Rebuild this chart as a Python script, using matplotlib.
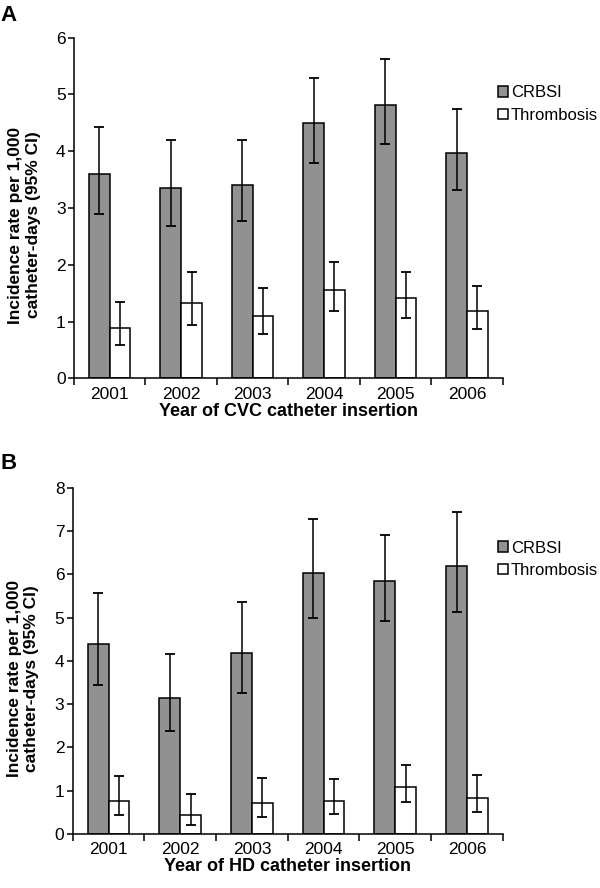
import matplotlib
matplotlib.use("Agg")
import matplotlib.pyplot as plt
import numpy as np

plt.rcParams['font.family'] = ['Liberation Sans', 'DejaVu Sans']

years = ['2001', '2002', '2003', '2004', '2005', '2006']
series_names = ['CRBSI', 'Thrombosis']

# Panel A: CVC catheters
a_crbsi = [3.60, 3.35, 3.41, 4.49, 4.82, 3.97]
a_crbsi_lo = [2.90, 2.68, 2.77, 3.80, 4.12, 3.31]
a_crbsi_hi = [4.43, 4.19, 4.20, 5.29, 5.63, 4.74]
a_thr = [0.89, 1.32, 1.10, 1.56, 1.42, 1.18]
a_thr_lo = [0.59, 0.93, 0.78, 1.18, 1.07, 0.86]
a_thr_hi = [1.35, 1.88, 1.59, 2.05, 1.88, 1.63]

# Panel B: HD catheters
b_crbsi = [4.38, 3.14, 4.18, 6.04, 5.84, 6.19]
b_crbsi_lo = [3.44, 2.37, 3.25, 5.00, 4.92, 5.13]
b_crbsi_hi = [5.57, 4.15, 5.36, 7.28, 6.92, 7.45]
b_thr = [0.76, 0.43, 0.71, 0.76, 1.08, 0.82]
b_thr_lo = [0.43, 0.20, 0.39, 0.45, 0.73, 0.50]
b_thr_hi = [1.34, 0.91, 1.29, 1.26, 1.59, 1.35]

fig = plt.figure(figsize=(6, 8.88), dpi=100)

def panel(rect, crbsi, clo, chi, thr, tlo, thi, ymax, xlabel, letter, letter_y, leg_y):
    ax = fig.add_axes(rect)
    n = len(years)
    x = np.arange(n) + 0.5
    w = 0.29
    ekw = dict(elinewidth=1.1, capthick=1.3, ecolor='black')
    c = np.array(crbsi); t = np.array(thr)
    ax.bar(x - w / 2, c, w, color='#919191', edgecolor='black', linewidth=1.1,
           yerr=[c - np.array(clo), np.array(chi) - c], capsize=3.5,
           error_kw=ekw, label=series_names[0], zorder=2)
    ax.bar(x + w / 2, t, w, color='white', edgecolor='black', linewidth=1.1,
           yerr=[t - np.array(tlo), np.array(thi) - t], capsize=3.5,
           error_kw=ekw, label=series_names[1], zorder=2)
    ax.set_xlim(0, n)
    ax.set_ylim(0, ymax)
    ax.set_yticks(np.arange(0, ymax + 1, 1))
    ax.set_xticks(np.arange(0, n + 1, 1))
    ax.set_xticklabels([])
    ax.set_xticks(x, minor=True)
    ax.set_xticklabels(years, minor=True)
    ax.tick_params(axis='x', which='major', direction='out', length=5, width=1.1)
    ax.tick_params(axis='x', which='minor', length=0, labelsize=12.5, pad=6)
    ax.tick_params(axis='y', direction='out', length=4, width=1.1, labelsize=12.5, pad=2)
    for s in ['top', 'right']:
        ax.spines[s].set_visible(False)
    for s in ['left', 'bottom']:
        ax.spines[s].set_linewidth(1.1)
    ax.set_xlabel(xlabel, fontsize=13, fontweight='bold', labelpad=1)
    ax.set_ylabel('Incidence rate per 1,000\ncatheter-days (95% CI)', fontsize=12.5,
                  fontweight='bold', linespacing=1.2)
    ax.yaxis.set_label_coords(-0.078, 0.45)
    ax.legend(loc='center left', bbox_to_anchor=(0.99, leg_y), frameon=False,
              fontsize=12, handlelength=0.6, handleheight=0.6,
              handletextpad=0.15, labelspacing=0.45, borderaxespad=0, borderpad=0)
    fig.text(0.0, letter_y, letter, fontsize=16, fontweight='bold', va='center', ha='left')
    return ax

panel([0.1233, 0.574, 0.7145, 0.3836], a_crbsi, a_crbsi_lo, a_crbsi_hi,
      a_thr, a_thr_lo, a_thr_hi, 6, 'Year of CVC catheter insertion', 'A', 0.982, 0.805)
panel([0.1212, 0.0611, 0.7167, 0.3893], b_crbsi, b_crbsi_lo, b_crbsi_hi,
      b_thr, b_thr_lo, b_thr_hi, 8, 'Year of HD catheter insertion', 'B', 0.478, 0.794)

fig.savefig('out.png', dpi=100)
